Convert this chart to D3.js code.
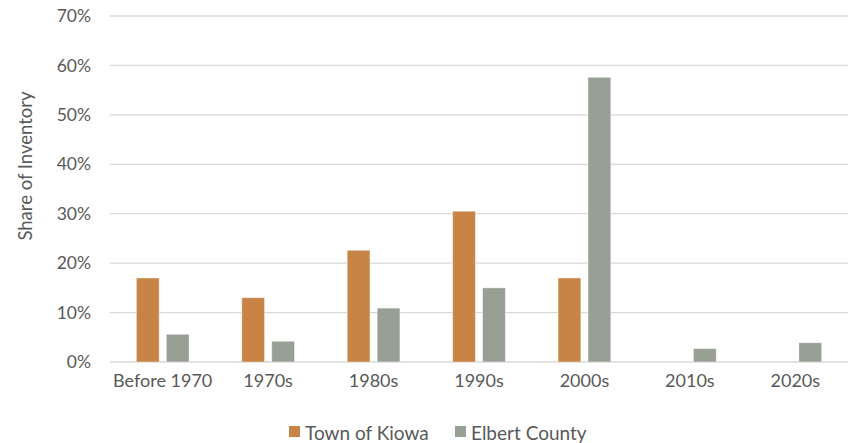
<!DOCTYPE html>
<html>
<head>
<meta charset="utf-8">
<script src="https://cdn.jsdelivr.net/npm/d3@7"></script>
<style>
  body { margin: 0; background: #fff; }
  svg text { font-family: Lato, "Open Sans", sans-serif; fill: #595959; }
</style>
</head>
<body>
<div id="chart"></div>
<script>
// data
const categories = ["Before 1970", "1970s", "1980s", "1990s", "2000s", "2010s", "2020s"];
const seriesNames = ["Town of Kiowa", "Elbert County"];
const kiowa = [17.0, 13.0, 22.6, 30.5, 17.0, 0, 0];
const elbert = [5.6, 4.2, 10.9, 15.0, 57.6, 2.7, 3.9];
const yTicks = [0, 10, 20, 30, 40, 50, 60, 70];
const colors = ["#C88446", "#98A095"];

const W = 851, H = 443;
const margin = { top: 16, right: 3, bottom: 81, left: 110 };
const width = W - margin.left - margin.right,
      height = H - margin.top - margin.bottom;

const svg = d3.select("#chart")
  .append("svg")
  .attr("width", W)
  .attr("height", H);

const g = svg.append("g")
  .attr("transform", `translate(${margin.left},${margin.top})`);

// scales
const x0 = d3.scaleBand()
  .domain(categories)
  .range([0, width])
  .paddingInner(0.5)
  .paddingOuter(0.25);
const x1 = d3.scaleBand()
  .domain(seriesNames)
  .range([0, x0.bandwidth()])
  .paddingInner(0.24);
const y = d3.scaleLinear()
  .domain([0, 70])
  .range([height, 0]);

// gridlines
g.append("g")
  .selectAll("line")
  .data(yTicks)
  .join("line")
  .attr("x1", 0)
  .attr("x2", width)
  .attr("y1", d => y(d))
  .attr("y2", d => y(d))
  .attr("stroke", "#D9D9D9")
  .attr("stroke-width", 1.3);

// y axis labels
const yAxis = g.append("g")
  .call(d3.axisLeft(y).tickValues(yTicks).tickFormat(d => d + "%").tickSize(0).tickPadding(19));
yAxis.select(".domain").remove();
yAxis.selectAll("text")
  .style("font-size", "17.5px")
  .attr("fill", "#595959");

// x axis labels
const xAxis = g.append("g")
  .attr("transform", `translate(0,${height})`)
  .call(d3.axisBottom(x0).tickSize(0).tickPadding(12));
xAxis.select(".domain").remove();
xAxis.selectAll("text")
  .style("font-size", "18px")
  .attr("fill", "#595959");

// bars
const table = categories.map((c, i) => ({ cat: c, vals: [kiowa[i], elbert[i]] }));
g.append("g")
  .selectAll("g")
  .data(table)
  .join("g")
  .attr("transform", d => `translate(${x0(d.cat)},0)`)
  .selectAll("rect")
  .data(d => d.vals.map((v, k) => ({ name: seriesNames[k], v: v, k: k })).filter(d => d.v > 0))
  .join("rect")
  .attr("x", d => x1(d.name))
  .attr("y", d => y(d.v))
  .attr("width", x1.bandwidth())
  .attr("height", d => height - y(d.v))
  .attr("fill", d => colors[d.k])
  .attr("stroke", "#ffffff")
  .attr("stroke-opacity", 0.5)
  .attr("stroke-width", 0.8);

// y axis title
svg.append("text")
  .attr("transform", `translate(25,${margin.top + 150}) rotate(-90)`)
  .attr("text-anchor", "middle")
  .attr("dominant-baseline", "central")
  .style("font-size", "18.5px")
  .text("Share of Inventory");

// legend
const legend = svg.append("g").attr("transform", "translate(289,432)");
const legendX = [0, 166];
const items = legend.selectAll("g")
  .data(seriesNames)
  .join("g")
  .attr("transform", (d, i) => `translate(${legendX[i]},0)`);
items.append("rect")
  .attr("x", 0)
  .attr("y", -6)
  .attr("width", 11)
  .attr("height", 11)
  .attr("fill", (d, i) => colors[i]);
items.append("text")
  .attr("x", 16)
  .attr("y", 0)
  .attr("dominant-baseline", "central")
  .style("font-size", "19px")
  .text(d => d);
</script>
</body>
</html>
